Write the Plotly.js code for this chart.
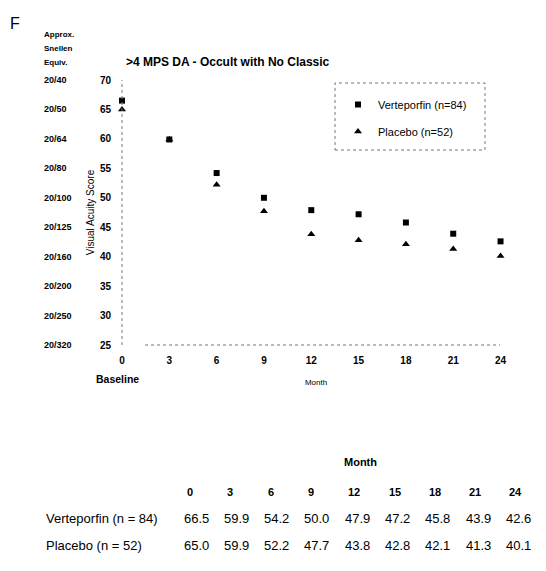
<!DOCTYPE html>
<html>
<head>
<meta charset="utf-8">
<script src="https://cdn.plot.ly/plotly-3.0.1.min.js"></script>
<style>html,body{margin:0;padding:0;background:#fff;}#chart{width:546px;height:571px;}</style>
</head>
<body>
<div id="chart"></div>
<script>
// ---- data ----
const months = [0, 3, 6, 9, 12, 15, 18, 21, 24];
const verteporfin = [66.5, 59.9, 54.2, 50.0, 47.9, 47.2, 45.8, 43.9, 42.6];
const placebo = [65.0, 59.9, 52.2, 47.7, 43.8, 42.8, 42.1, 41.3, 40.1];
const yTicks = [70, 65, 60, 55, 50, 45, 40, 35, 30, 25];
const snellen = ['20/40', '20/50', '20/64', '20/80', '20/100', '20/125', '20/160', '20/200', '20/250', '20/320'];
const seriesNames = ['Verteporfin (n=84)', 'Placebo (n=52)'];
const rowLabels = ['Verteporfin (n = 84)', 'Placebo (n = 52)'];

// ---- layout geometry (pixels) ----
const W = 546, H = 571;
const L = 122, R = 510, T = 80, B = 345;
const pw = R - L, ph = B - T;
const px = x => (x - L) / pw;      // pixel -> paper x
const py = y => (B - y) / ph;      // pixel -> paper y
const FONT = 'Liberation Sans, Arial, sans-serif';

const traces = [
  {x: months, y: verteporfin, type: 'scatter', mode: 'markers', name: seriesNames[0],
   legendgroup: 'a', marker: {symbol: 'square', size: 6, color: '#000'}, cliponaxis: false},
  {x: months, y: placebo, type: 'scatter', mode: 'markers', name: seriesNames[1],
   legendgroup: 'b', marker: {symbol: 'triangle-up', size: 7, color: '#000'}, cliponaxis: false}
];

const ann = [];
// Figure letter
ann.push({text: 'F', xref: 'paper', yref: 'paper', x: px(8), y: py(23), xanchor: 'left', yanchor: 'middle',
  showarrow: false, font: {family: FONT, size: 16, color: '#000'}});
// Chart title
ann.push({text: '<b>>4 MPS DA - Occult with No Classic</b>', xref: 'paper', yref: 'paper', x: px(124), y: py(62),
  xanchor: 'left', yanchor: 'middle', showarrow: false, font: {family: FONT, size: 12, color: '#000'}});
// Snellen header
['Approx.', 'Snellen', 'Equiv.'].forEach((t, i) => ann.push({text: '<b>' + t + '</b>', xref: 'paper', yref: 'paper',
  x: px(42), y: py(34 + i * 14), xanchor: 'left', yanchor: 'middle', showarrow: false,
  font: {family: FONT, size: 8, color: '#000'}}));
// Snellen labels aligned with score ticks
snellen.forEach((s, i) => ann.push({text: '<b>' + s + '</b>', xref: 'paper', yref: 'y',
  x: px(42), y: yTicks[i], xanchor: 'left', yanchor: 'middle', showarrow: false,
  font: {family: FONT, size: 9, color: '#000'}}));
// Baseline
ann.push({text: '<b>Baseline</b>', xref: 'paper', yref: 'paper', x: px(117), y: py(379), xanchor: 'center', yanchor: 'middle',
  showarrow: false, font: {family: FONT, size: 10.5, color: '#000'}});
// Table
const colX = months.map((m, i) => 196 + i * 40.3);
ann.push({text: '<b>Month</b>', xref: 'paper', yref: 'paper', x: px(360), y: py(462), xanchor: 'center', yanchor: 'middle',
  showarrow: false, font: {family: FONT, size: 11, color: '#000'}});
months.forEach((m, i) => ann.push({text: '<b>' + m + '</b>', xref: 'paper', yref: 'paper', x: px(colX[i] - 11), y: py(492),
  xanchor: 'left', yanchor: 'middle', showarrow: false, font: {family: FONT, size: 11, color: '#000'}}));
[verteporfin, placebo].forEach((row, r) => {
  const yy = r === 0 ? 518 : 545;
  ann.push({text: rowLabels[r], xref: 'paper', yref: 'paper', x: px(44), y: py(yy), xanchor: 'left', yanchor: 'middle',
    showarrow: false, font: {family: FONT, size: 13, color: '#000'}});
  row.forEach((v, i) => ann.push({text: v.toFixed(1), xref: 'paper', yref: 'paper', x: px(colX[i]), y: py(yy),
    xanchor: 'center', yanchor: 'middle', showarrow: false, font: {family: FONT, size: 13, color: '#000'}}));
});

const shapes = [
  {type: 'line', xref: 'paper', yref: 'paper', x0: 0, x1: 0, y0: 0, y1: 1,
   line: {color: '#777', width: 1, dash: 'dot'}},
  {type: 'line', xref: 'paper', yref: 'paper', x0: px(145), x1: px(500), y0: 0, y1: 0,
   line: {color: '#777', width: 1, dash: 'dot'}},
  {type: 'rect', xref: 'paper', yref: 'paper', x0: px(335), x1: px(485), y0: py(150), y1: py(83),
   line: {color: '#777', width: 1, dash: 'dot'}}
];

const layout = {
  width: W, height: H,
  margin: {l: L, r: W - R, t: T, b: H - B, pad: 0},
  paper_bgcolor: '#fff', plot_bgcolor: '#fff',
  font: {family: FONT, color: '#000'},
  showlegend: true,
  legend: {x: px(338), y: py(90), xanchor: 'left', yanchor: 'top', bgcolor: 'rgba(0,0,0,0)', borderwidth: 0,
    traceorder: 'grouped', tracegroupgap: 8, font: {family: FONT, size: 11, color: '#000'}},
  xaxis: {range: [0, 24.6], tickvals: months, ticktext: months.map(m => '<b>' + m + '</b>'),
    showgrid: false, zeroline: false, showline: false, ticks: '', ticklabelstandoff: 8,
    tickfont: {family: FONT, size: 10, color: '#000'},
    title: {text: 'Month', standoff: 14, font: {family: FONT, size: 8, color: '#000'}}},
  yaxis: {range: [25, 70], tickvals: yTicks, ticktext: yTicks.map(t => '<b>' + t + '</b>'),
    showgrid: false, zeroline: false, showline: false, ticks: '', ticklabelstandoff: 10,
    tickfont: {family: FONT, size: 10, color: '#000'},
    title: {text: 'Visual Acuity Score', standoff: 3, font: {family: FONT, size: 10, color: '#000'}}},
  annotations: ann,
  shapes: shapes
};

Plotly.newPlot('chart', traces, layout, {staticPlot: true, displayModeBar: false});
</script>
</body>
</html>
